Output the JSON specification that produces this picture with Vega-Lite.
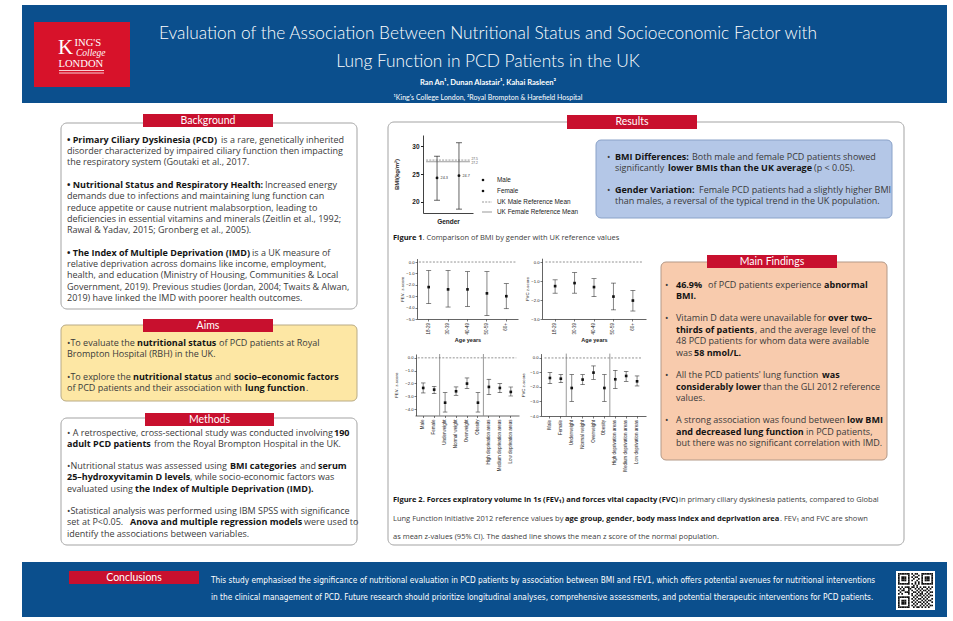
{
  "$schema": "https://vega.github.io/schema/vega-lite/v6.json",
  "width": 953,
  "height": 621,
  "autosize": "none",
  "padding": 0,
  "background": "#ffffff",
  "config": {
    "view": {"stroke": null},
    "axis": {"grid": false, "zindex": 1, "labelFont": "Liberation Sans", "titleFont": "Liberation Sans", "domainColor": "#222222", "tickColor": "#222222", "labelColor": "#222222", "titleColor": "#222222"}
  },
  "datasets": {
    "bands": [{"x": 22, "x2": 947, "y": 5, "y2": 103}, {"x": 22, "x2": 947, "y": 562, "y2": 617}],
    "logo": [{"x": 34, "x2": 130, "y": 22, "y2": 87}],
    "plainBoxes": [{"x": 61, "x2": 357, "y": 123, "y2": 309}, {"x": 61, "x2": 357, "y": 418, "y2": 545}, {"x": 388, "x2": 904, "y": 122, "y2": 545}],
    "aimsBox": [{"x": 61, "x2": 357, "y": 325, "y2": 401}],
    "resultBox": [{"x": 596, "x2": 892, "y": 140, "y2": 218}],
    "findBox": [{"x": 661, "x2": 887, "y": 262, "y2": 460}],
    "tabs": [
      {"x": 143, "x2": 273, "y": 114, "y2": 127}, {"x": 143, "x2": 273, "y": 319, "y2": 332},
      {"x": 145, "x2": 274, "y": 413, "y2": 426}, {"x": 567, "x2": 697, "y": 115, "y2": 129},
      {"x": 707, "x2": 837, "y": 255, "y2": 268}, {"x": 69, "x2": 199, "y": 571, "y2": 584}
    ],
    "tabText": [
      {"x": 208, "y": 120.5, "t": "Background"}, {"x": 208, "y": 325.5, "t": "Aims"},
      {"x": 209.5, "y": 419.5, "t": "Methods"}, {"x": 632, "y": 122, "t": "Results"},
      {"x": 772, "y": 261.5, "t": "Main Findings"}, {"x": 134, "y": 577.5, "t": "Conclusions"}
    ],
    "qrBg": [{"x": 896, "x2": 935, "y": 571, "y2": 610}],
    "titleLines": [
      {"x": 488, "y": 33.5, "t": "Evaluation of the Association Between Nutritional Status and Socioeconomic Factor with"},
      {"x": 488, "y": 61.5, "t": "Lung Function in PCD Patients in the UK"}
    ],
    "authors": [{"x": 488, "y": 82.5, "t": "Ran An¹, Dunan Alastair¹, Kahai Rasleen²"}],
    "affil": [{"x": 488, "y": 97.5, "t": "¹King's College London, ²Royal Brompton & Harefield Hospital"}],
    "logoK": [{"x": 58, "y": 53.5, "t": "K"}],
    "logoCaps": [{"x": 74.5, "y": 45.5, "t": "ING'S"}, {"x": 58.5, "y": 67, "t": "LONDON"}],
    "logoItalic": [{"x": 76, "y": 55.5, "t": "College"}],
    "logoRules": [{"x": 59, "x2": 104, "y": 70.5}, {"x": 59, "x2": 104, "y": 73}],
    "plain": [
      {"x": 221, "y": 139.5, "t": "is a rare, genetically inherited"},
      {"x": 67, "y": 150.9, "t": "disorder characterized by impaired ciliary function then impacting"},
      {"x": 67, "y": 162.3, "t": "the respiratory system (Goutaki et al., 2017."},
      {"x": 265, "y": 184.7, "t": "Increased energy"},
      {"x": 67, "y": 196.1, "t": "demands due to infections and maintaining lung function can"},
      {"x": 67, "y": 207.5, "t": "reduce appetite or cause nutrient malabsorption, leading to"},
      {"x": 67, "y": 218.9, "t": "deficiencies in essential vitamins and minerals (Zeitlin et al., 1992;"},
      {"x": 67, "y": 230.3, "t": "Rawal & Yadav, 2015; Gronberg et al., 2005)."},
      {"x": 252, "y": 252.5, "t": "is a UK measure of"},
      {"x": 67, "y": 263.9, "t": "relative deprivation across domains like income, employment,"},
      {"x": 67, "y": 275.3, "t": "health, and education (Ministry of Housing, Communities & Local"},
      {"x": 67, "y": 286.7, "t": "Government, 2019). Previous studies (Jordan, 2004; Twaits & Alwan,"},
      {"x": 67, "y": 298.1, "t": "2019) have linked the IMD with poorer health outcomes."},
      {"x": 67, "y": 343, "t": "•To evaluate the"},
      {"x": 219, "y": 343, "t": "of PCD patients at Royal"},
      {"x": 67, "y": 354.4, "t": "Brompton Hospital (RBH) in the UK."},
      {"x": 67, "y": 377, "t": "•To explore the"},
      {"x": 215, "y": 377, "t": "and"},
      {"x": 67, "y": 388.4, "t": "of PCD patients and their association with"},
      {"x": 306, "y": 388.4, "t": "."},
      {"x": 67, "y": 432.5, "t": "• A retrospective, cross-sectional study was conducted involving"},
      {"x": 154, "y": 443.9, "t": "from the Royal Brompton Hospital in the UK."},
      {"x": 67, "y": 466, "t": "•Nutritional status was assessed using"},
      {"x": 300, "y": 466, "t": "and"},
      {"x": 190, "y": 477.4, "t": ", while socio-economic factors was"},
      {"x": 67, "y": 488.8, "t": "evaluated using"},
      {"x": 67, "y": 511, "t": "•Statistical analysis was performed using IBM SPSS with significance"},
      {"x": 67, "y": 522.4, "t": "set at P<0.05."},
      {"x": 304, "y": 522.4, "t": "were used to"},
      {"x": 67, "y": 533.8, "t": "identify the associations between variables."},
      {"x": 607, "y": 157, "t": "•"},
      {"x": 692, "y": 157, "t": "Both male and female PCD patients showed"},
      {"x": 615, "y": 168.4, "t": "significantly"},
      {"x": 814, "y": 168.4, "t": "(p < 0.05)."},
      {"x": 607, "y": 190, "t": "•"},
      {"x": 699, "y": 190, "t": "Female PCD patients had a slightly higher BMI"},
      {"x": 615, "y": 201.4, "t": "than males, a reversal of the typical trend in the UK population."},
      {"x": 665, "y": 285, "t": "•"},
      {"x": 708, "y": 285, "t": "of PCD patients experience"},
      {"x": 665, "y": 318, "t": "•"},
      {"x": 676, "y": 318, "t": "Vitamin D data were unavailable for"},
      {"x": 755, "y": 329.6, "t": ", and the average level of the"},
      {"x": 676, "y": 341.2, "t": "48 PCD patients for whom data were available"},
      {"x": 676, "y": 352.8, "t": "was"},
      {"x": 665, "y": 375, "t": "•"},
      {"x": 676, "y": 375, "t": "All the PCD patients' lung function"},
      {"x": 763, "y": 386.6, "t": "than the GLI 2012 reference"},
      {"x": 676, "y": 398.2, "t": "values."},
      {"x": 665, "y": 420, "t": "•"},
      {"x": 676, "y": 420, "t": "A strong association was found between"},
      {"x": 806, "y": 431.6, "t": "in PCD patients,"},
      {"x": 676, "y": 443.2, "t": "but there was no significant correlation with IMD."}
    ],
    "bold": [
      {"x": 67, "y": 139.5, "t": "• Primary Ciliary Dyskinesia (PCD)"},
      {"x": 67, "y": 184.7, "t": "• Nutritional Status and Respiratory Health:"},
      {"x": 67, "y": 252.5, "t": "• The Index of Multiple Deprivation (IMD)"},
      {"x": 137, "y": 343, "t": "nutritional status"},
      {"x": 133, "y": 377, "t": "nutritional status"},
      {"x": 234, "y": 377, "t": "socio–economic factors"},
      {"x": 245, "y": 388.4, "t": "lung function"},
      {"x": 334, "y": 432.5, "t": "190"},
      {"x": 67, "y": 443.9, "t": "adult PCD patients"},
      {"x": 230, "y": 466, "t": "BMI categories"},
      {"x": 318, "y": 466, "t": "serum"},
      {"x": 67, "y": 477.4, "t": "25–hydroxyvitamin D levels"},
      {"x": 135, "y": 488.8, "t": "the Index of Multiple Deprivation (IMD)."},
      {"x": 130, "y": 522.4, "t": "Anova and multiple regression models"},
      {"x": 615, "y": 157, "t": "BMI Differences:"},
      {"x": 668, "y": 168.4, "t": "lower BMIs than the UK average"},
      {"x": 615, "y": 190, "t": "Gender Variation:"},
      {"x": 676, "y": 285, "t": "46.9%"},
      {"x": 824, "y": 285, "t": "abnormal"},
      {"x": 676, "y": 296.4, "t": "BMI."},
      {"x": 828, "y": 318, "t": "over two–"},
      {"x": 676, "y": 329.6, "t": "thirds of patients"},
      {"x": 694, "y": 352.8, "t": "58 nmol/L."},
      {"x": 822, "y": 375, "t": "was"},
      {"x": 676, "y": 386.6, "t": "considerably lower"},
      {"x": 847, "y": 420, "t": "low BMI"},
      {"x": 676, "y": 431.6, "t": "and decreased lung function"}
    ],
    "capBold": [
      {"x": 393, "y": 238, "t": "Figure 1"},
      {"x": 393, "y": 499.5, "t": "Figure 2. Forces expiratory volume in 1s (FEV₁) and forces vital capacity (FVC)"},
      {"x": 565, "y": 518.5, "t": "age group, gender, body mass index and deprivation area"}
    ],
    "capPlain": [
      {"x": 422.5, "y": 238, "t": ". Comparison of BMI by gender with UK reference values"},
      {"x": 679, "y": 499.5, "t": "in primary ciliary dyskinesia patients, compared to Global"},
      {"x": 393, "y": 518.5, "t": "Lung Function Initiative 2012 reference values by"},
      {"x": 780, "y": 518.5, "t": ". FEV₁ and FVC are shown"},
      {"x": 393, "y": 537, "t": "as mean z-values (95% CI). The dashed line shows the mean z score of the normal population."}
    ],
    "legendDots": [{"x": 483, "y": 180}, {"x": 483, "y": 191}],
    "legendDash": [{"x": 482, "x2": 492, "y": 202}],
    "legendSolid": [{"x": 482, "x2": 492, "y": 212}],
    "legendText": [
      {"x": 497, "y": 180, "t": "Male"}, {"x": 497, "y": 191, "t": "Female"},
      {"x": 497, "y": 202, "t": "UK Male Reference Mean"}, {"x": 497, "y": 212, "t": "UK Female Reference Mean"}
    ],
    "conclusion": [
      {"x": 211, "y": 581, "t": "This study emphasised the significance of nutritional evaluation in PCD patients by association between BMI and FEV1, which offers potential avenues for nutritional interventions"},
      {"x": 211, "y": 598, "t": "in the clinical management of PCD. Future research should prioritize longitudinal analyses, comprehensive  assessments, and potential therapeutic interventions for PCD patients."}
    ],
    "bmi": [
      {"gender": "Male", "mean": 24.3, "lo": 20.3, "hi": 28.2},
      {"gender": "Female", "mean": 24.7, "lo": 18.7, "hi": 30.6}
    ],
    "bmiRef": [
      {"ref": "UK Male Reference Mean", "value": 27.5},
      {"ref": "UK Female Reference Mean", "value": 27.2}
    ],
    "fevAge": [
      {"grp": "18-29", "mean": -2.2, "lo": -3.65, "hi": -0.75},
      {"grp": "30-39", "mean": -2.4, "lo": -3.95, "hi": -0.75},
      {"grp": "40-49", "mean": -2.4, "lo": -3.9, "hi": -0.85},
      {"grp": "50-59", "mean": -2.75, "lo": -4.7, "hi": -0.85},
      {"grp": "60+", "mean": -3.0, "lo": -4.1, "hi": -1.9}
    ],
    "fvcAge": [
      {"grp": "18-29", "mean": -1.27, "lo": -1.64, "hi": -0.94},
      {"grp": "30-39", "mean": -1.11, "lo": -1.64, "hi": -0.56},
      {"grp": "40-49", "mean": -1.32, "lo": -1.82, "hi": -0.88},
      {"grp": "50-59", "mean": -1.82, "lo": -2.52, "hi": -1.11},
      {"grp": "60+", "mean": -2.03, "lo": -2.58, "hi": -1.5}
    ],
    "fevGroup": [
      {"grp": "Male", "mean": -2.35, "lo": -2.74, "hi": -1.96},
      {"grp": "Female", "mean": -2.48, "lo": -2.79, "hi": -2.22},
      {"grp": "Underweight", "mean": -3.5, "lo": -4.23, "hi": -2.72},
      {"grp": "Normal weight", "mean": -2.61, "lo": -2.92, "hi": -2.27},
      {"grp": "Overweight", "mean": -2.01, "lo": -2.4, "hi": -1.57},
      {"grp": "Obesity", "mean": -3.5, "lo": -4.23, "hi": -2.72},
      {"grp": "High deprivation areas", "mean": -2.27, "lo": -2.87, "hi": -1.67},
      {"grp": "Medium deprivation areas", "mean": -2.35, "lo": -2.72, "hi": -2.01},
      {"grp": "Low deprivation areas", "mean": -2.66, "lo": -2.98, "hi": -2.27}
    ],
    "fvcGroup": [
      {"grp": "Male", "mean": -1.38, "lo": -1.77, "hi": -1.01},
      {"grp": "Female", "mean": -1.43, "lo": -1.7, "hi": -1.15},
      {"grp": "Underweight", "mean": -2.07, "lo": -2.99, "hi": -1.15},
      {"grp": "Normal weight", "mean": -1.49, "lo": -1.84, "hi": -1.15},
      {"grp": "Overweight", "mean": -1.01, "lo": -1.47, "hi": -0.55},
      {"grp": "Obesity", "mean": -2.07, "lo": -2.99, "hi": -1.15},
      {"grp": "High deprivation areas", "mean": -1.47, "lo": -2.11, "hi": -0.85},
      {"grp": "Medium deprivation areas", "mean": -1.24, "lo": -1.61, "hi": -0.92},
      {"grp": "Low deprivation areas", "mean": -1.61, "lo": -1.93, "hi": -1.24}
    ],
    "groupBreaks": [{"g": "Underweight"}, {"g": "High deprivation areas"}],
    "normalMean": [{"z": 0}],
    "ageSpan": [{"z": 0, "first": "18-29", "last": "60+"}],
    "qr": [
      {"r": 0, "c": [0, 1, 2, 3, 4, 5, 6, 8, 10, 11, 14, 15, 16, 17, 18, 19, 20]},
      {"r": 1, "c": [0, 6, 9, 12, 14, 20]},
      {"r": 2, "c": [0, 2, 3, 4, 6, 8, 10, 11, 14, 16, 17, 18, 20]},
      {"r": 3, "c": [0, 2, 3, 4, 6, 9, 12, 14, 16, 17, 18, 20]},
      {"r": 4, "c": [0, 2, 3, 4, 6, 8, 11, 14, 16, 17, 18, 20]},
      {"r": 5, "c": [0, 6, 10, 12, 14, 20]},
      {"r": 6, "c": [0, 1, 2, 3, 4, 5, 6, 8, 10, 12, 14, 15, 16, 17, 18, 19, 20]},
      {"r": 7, "c": [9, 11]},
      {"r": 8, "c": [0, 2, 4, 5, 6, 8, 9, 11, 13, 15, 16, 18, 20]},
      {"r": 9, "c": [1, 3, 6, 7, 10, 12, 14, 17, 19]},
      {"r": 10, "c": [0, 2, 3, 6, 8, 11, 13, 15, 16, 18]},
      {"r": 11, "c": [1, 4, 5, 6, 9, 10, 12, 14, 17, 19, 20]},
      {"r": 12, "c": [0, 2, 6, 8, 11, 13, 14, 16, 18]},
      {"r": 13, "c": [8, 10, 12, 13, 15, 17, 19, 20]},
      {"r": 14, "c": [0, 1, 2, 3, 4, 5, 6, 9, 11, 14, 16, 18]},
      {"r": 15, "c": [0, 6, 8, 10, 12, 13, 15, 17, 20]},
      {"r": 16, "c": [0, 2, 3, 4, 6, 9, 11, 14, 16, 18, 19]},
      {"r": 17, "c": [0, 2, 3, 4, 6, 8, 10, 12, 13, 15, 17, 20]},
      {"r": 18, "c": [0, 2, 3, 4, 6, 9, 11, 14, 16, 18]},
      {"r": 19, "c": [0, 6, 8, 10, 13, 15, 17, 19, 20]},
      {"r": 20, "c": [0, 1, 2, 3, 4, 5, 6, 9, 11, 12, 14, 16, 18]}
    ]
  },
  "layer": [
    {
      "encoding": {
        "x": {"field": "x", "type": "quantitative", "scale": {"domain": [0, 953], "range": [0, 953], "nice": false, "zero": false}, "axis": null},
        "y": {"field": "y", "type": "quantitative", "scale": {"domain": [0, 621], "range": [0, 621], "nice": false, "zero": false}, "axis": null}
      },
      "layer": [
        {"data": {"name": "bands"}, "mark": {"type": "rect", "fill": "#0b4f8d"}, "encoding": {"x2": {"field": "x2"}, "y2": {"field": "y2"}}},
        {"data": {"name": "logo"}, "mark": {"type": "rect", "fill": "#d7122a"}, "encoding": {"x2": {"field": "x2"}, "y2": {"field": "y2"}}},
        {"data": {"name": "plainBoxes"}, "mark": {"type": "rect", "fill": "#ffffff", "fillOpacity": 0, "stroke": "#a3a3a3", "strokeWidth": 1, "cornerRadius": 6}, "encoding": {"x2": {"field": "x2"}, "y2": {"field": "y2"}}},
        {"data": {"name": "aimsBox"}, "mark": {"type": "rect", "fill": "#fde7a4", "stroke": "#b9ab86", "strokeWidth": 1, "cornerRadius": 5}, "encoding": {"x2": {"field": "x2"}, "y2": {"field": "y2"}}},
        {"data": {"name": "resultBox"}, "mark": {"type": "rect", "fill": "#b4c7e7", "stroke": "#8aa2c8", "strokeWidth": 1, "cornerRadius": 5}, "encoding": {"x2": {"field": "x2"}, "y2": {"field": "y2"}}},
        {"data": {"name": "findBox"}, "mark": {"type": "rect", "fill": "#f8cbad", "stroke": "#b39988", "strokeWidth": 1, "cornerRadius": 5}, "encoding": {"x2": {"field": "x2"}, "y2": {"field": "y2"}}},
        {"data": {"name": "tabs"}, "mark": {"type": "rect", "fill": "#c8102e"}, "encoding": {"x2": {"field": "x2"}, "y2": {"field": "y2"}}},
        {"data": {"name": "qrBg"}, "mark": {"type": "rect", "fill": "#ffffff"}, "encoding": {"x2": {"field": "x2"}, "y2": {"field": "y2"}}},
        {"data": {"name": "tabText"}, "mark": {"type": "text", "font": "Lato", "fontSize": 10.5, "color": "#ffffff", "align": "center", "baseline": "middle"}, "encoding": {"text": {"field": "t"}}},
        {"data": {"name": "titleLines"}, "mark": {"type": "text", "font": "Lato", "fontWeight": 300, "fontSize": 17.3, "color": "#ffffff", "align": "center", "baseline": "middle"}, "encoding": {"text": {"field": "t"}}},
        {"data": {"name": "authors"}, "mark": {"type": "text", "font": "Lato", "fontWeight": "bold", "fontSize": 7.6, "color": "#ffffff", "align": "center", "baseline": "middle"}, "encoding": {"text": {"field": "t"}}},
        {"data": {"name": "affil"}, "mark": {"type": "text", "font": "Lato", "fontSize": 7, "color": "#ffffff", "align": "center", "baseline": "middle"}, "encoding": {"text": {"field": "t"}}},
        {"data": {"name": "logoK"}, "mark": {"type": "text", "font": "Liberation Serif", "fontSize": 21, "color": "#ffffff", "align": "left", "baseline": "alphabetic"}, "encoding": {"text": {"field": "t"}}},
        {"data": {"name": "logoCaps"}, "mark": {"type": "text", "font": "Liberation Serif", "fontSize": 10.6, "color": "#ffffff", "align": "left", "baseline": "alphabetic"}, "encoding": {"text": {"field": "t"}}},
        {"data": {"name": "logoItalic"}, "mark": {"type": "text", "font": "Liberation Serif", "fontStyle": "italic", "fontSize": 9.5, "color": "#ffffff", "align": "left", "baseline": "alphabetic"}, "encoding": {"text": {"field": "t"}}},
        {"data": {"name": "logoRules"}, "mark": {"type": "rule", "color": "#ffffff", "strokeWidth": 0.8}, "encoding": {"x2": {"field": "x2"}}},
        {"data": {"name": "plain"}, "mark": {"type": "text", "font": "Open Sans", "fontSize": 9, "color": "#3a3a3a", "align": "left", "baseline": "middle"}, "encoding": {"text": {"field": "t"}}},
        {"data": {"name": "bold"}, "mark": {"type": "text", "font": "Open Sans", "fontWeight": "bold", "fontSize": 9, "color": "#141414", "align": "left", "baseline": "middle"}, "encoding": {"text": {"field": "t"}}},
        {"data": {"name": "capPlain"}, "mark": {"type": "text", "font": "Open Sans", "fontSize": 7.5, "color": "#404040", "align": "left", "baseline": "middle"}, "encoding": {"text": {"field": "t"}}},
        {"data": {"name": "capBold"}, "mark": {"type": "text", "font": "Open Sans", "fontWeight": "bold", "fontSize": 7.5, "color": "#141414", "align": "left", "baseline": "middle"}, "encoding": {"text": {"field": "t"}}},
        {"data": {"name": "legendDots"}, "mark": {"type": "circle", "size": 7, "color": "#111111", "opacity": 1}},
        {"data": {"name": "legendDash"}, "mark": {"type": "rule", "color": "#555555", "strokeWidth": 0.6, "strokeDash": [2, 1.2]}, "encoding": {"x2": {"field": "x2"}}},
        {"data": {"name": "legendSolid"}, "mark": {"type": "rule", "color": "#555555", "strokeWidth": 0.6}, "encoding": {"x2": {"field": "x2"}}},
        {"data": {"name": "legendText"}, "mark": {"type": "text", "font": "Liberation Sans", "fontSize": 6.4, "color": "#222222", "align": "left", "baseline": "middle"}, "encoding": {"text": {"field": "t"}}},
        {"data": {"name": "conclusion"}, "mark": {"type": "text", "font": "Liberation Sans Narrow, DejaVu Sans Condensed, sans-serif", "fontSize": 8.25, "color": "#ffffff", "align": "left", "baseline": "middle"}, "encoding": {"text": {"field": "t"}}}
      ]
    },
    {
      "data": {"name": "bmi"},
      "mark": {"type": "rule", "color": "#222222", "strokeWidth": 0.7},
      "encoding": {
        "x": {"field": "gender", "type": "nominal", "scale": {"type": "band", "domain": ["Male", "Female"], "range": [423, 473], "paddingInner": 0, "paddingOuter": 0.14},
          "axis": {"orient": "bottom", "offset": -408, "zindex": 1, "labels": false, "ticks": false, "title": "Gender", "titleFontSize": 6.5, "titleFontWeight": "bold", "titlePadding": 5, "domainColor": "#111111", "domainWidth": 0.8}},
        "y": {"field": "lo", "type": "quantitative", "scale": {"domain": [18, 32], "range": [213, 135], "nice": false, "zero": false},
          "axis": {"orient": "left", "offset": -423, "zindex": 1, "values": [20, 25, 30], "labelFontSize": 6.5, "labelFontWeight": "bold", "tickSize": 2.5, "labelPadding": 1.5, "title": "BMI(kg/m²)", "titleFontSize": 6, "titleFontWeight": "bold", "titlePadding": 12, "domainColor": "#111111", "domainWidth": 0.8}},
        "y2": {"field": "hi"}
      }
    },
    {
      "data": {"name": "bmi"},
      "mark": {"type": "tick", "orient": "horizontal", "size": 6, "thickness": 0.7, "color": "#222222", "opacity": 1},
      "encoding": {
        "x": {"field": "gender", "type": "nominal", "scale": {"type": "band", "domain": ["Male", "Female"], "range": [423, 473], "paddingInner": 0, "paddingOuter": 0.14}, "axis": null},
        "y": {"field": "lo", "type": "quantitative", "scale": {"domain": [18, 32], "range": [213, 135], "nice": false, "zero": false}, "axis": null}
      }
    },
    {
      "data": {"name": "bmi"},
      "mark": {"type": "tick", "orient": "horizontal", "size": 6, "thickness": 0.7, "color": "#222222", "opacity": 1},
      "encoding": {
        "x": {"field": "gender", "type": "nominal", "scale": {"type": "band", "domain": ["Male", "Female"], "range": [423, 473], "paddingInner": 0, "paddingOuter": 0.14}, "axis": null},
        "y": {"field": "hi", "type": "quantitative", "scale": {"domain": [18, 32], "range": [213, 135], "nice": false, "zero": false}, "axis": null}
      }
    },
    {
      "data": {"name": "bmi"},
      "mark": {"type": "circle", "size": 8, "color": "#111111", "opacity": 1},
      "encoding": {
        "x": {"field": "gender", "type": "nominal", "scale": {"type": "band", "domain": ["Male", "Female"], "range": [423, 473], "paddingInner": 0, "paddingOuter": 0.14}, "axis": null},
        "y": {"field": "mean", "type": "quantitative", "scale": {"domain": [18, 32], "range": [213, 135], "nice": false, "zero": false}, "axis": null}
      }
    },
    {
      "data": {"name": "bmi"},
      "mark": {"type": "text", "font": "Liberation Sans", "fontSize": 3.8, "color": "#333333", "align": "left", "baseline": "middle", "dx": 3.5},
      "encoding": {
        "x": {"field": "gender", "type": "nominal", "scale": {"type": "band", "domain": ["Male", "Female"], "range": [423, 473], "paddingInner": 0, "paddingOuter": 0.14}, "axis": null},
        "y": {"field": "mean", "type": "quantitative", "scale": {"domain": [18, 32], "range": [213, 135], "nice": false, "zero": false}, "axis": null},
        "text": {"field": "mean", "type": "quantitative", "format": ".1f"}
      }
    },
    {
      "data": {"name": "bmiRef"},
      "mark": {"type": "rule", "color": "#555555", "strokeWidth": 0.6},
      "encoding": {
        "x": {"datum": "Male", "type": "nominal", "bandPosition": 0, "scale": {"type": "band", "domain": ["Male", "Female"], "range": [423, 473], "paddingInner": 0, "paddingOuter": 0.14}, "axis": null},
        "x2": {"datum": "Female", "bandPosition": 1},
        "y": {"field": "value", "type": "quantitative", "scale": {"domain": [18, 32], "range": [213, 135], "nice": false, "zero": false}, "axis": null},
        "strokeDash": {"field": "ref", "type": "nominal", "scale": {"domain": ["UK Male Reference Mean", "UK Female Reference Mean"], "range": [[2, 1.2], [1, 0]]}, "legend": null}
      }
    },
    {
      "data": {"name": "bmiRef"},
      "transform": [{"filter": "datum.ref === 'UK Male Reference Mean'"}],
      "mark": {"type": "text", "font": "Liberation Sans", "fontSize": 3.3, "color": "#555555", "align": "left", "baseline": "bottom", "dx": 1.5, "dy": 0.6},
      "encoding": {
        "x": {"datum": "Female", "type": "nominal", "bandPosition": 1, "scale": {"type": "band", "domain": ["Male", "Female"], "range": [423, 473], "paddingInner": 0, "paddingOuter": 0.14}, "axis": null},
        "y": {"field": "value", "type": "quantitative", "scale": {"domain": [18, 32], "range": [213, 135], "nice": false, "zero": false}, "axis": null},
        "text": {"field": "value", "type": "quantitative", "format": ".1f"}
      }
    },
    {
      "data": {"name": "bmiRef"},
      "transform": [{"filter": "datum.ref === 'UK Female Reference Mean'"}],
      "mark": {"type": "text", "font": "Liberation Sans", "fontSize": 3.3, "color": "#555555", "align": "left", "baseline": "top", "dx": 1.5, "dy": -0.6},
      "encoding": {
        "x": {"datum": "Female", "type": "nominal", "bandPosition": 1, "scale": {"type": "band", "domain": ["Male", "Female"], "range": [423, 473], "paddingInner": 0, "paddingOuter": 0.14}, "axis": null},
        "y": {"field": "value", "type": "quantitative", "scale": {"domain": [18, 32], "range": [213, 135], "nice": false, "zero": false}, "axis": null},
        "text": {"field": "value", "type": "quantitative", "format": ".1f"}
      }
    },
    {
      "data": {"name": "ageSpan"},
      "mark": {"type": "rule", "color": "#777777", "strokeWidth": 0.8, "strokeDash": [2, 1.5]},
      "encoding": {
        "x": {"field": "first", "type": "nominal", "bandPosition": 0, "scale": {"type": "band", "domain": ["18-29", "30-39", "40-49", "50-59", "60+"], "range": [417, 518], "paddingInner": 0, "paddingOuter": 0.1}, "axis": null},
        "x2": {"field": "last", "bandPosition": 1},
        "y": {"field": "z", "type": "quantitative", "scale": {"domain": [-5, 0.3], "range": [319, 258.6], "nice": false, "zero": false}, "axis": null}
      }
    },
    {
      "data": {"name": "fevAge"},
      "mark": {"type": "rule", "color": "#333333", "strokeWidth": 0.6},
      "encoding": {
        "x": {"field": "grp", "type": "nominal", "scale": {"type": "band", "domain": ["18-29", "30-39", "40-49", "50-59", "60+"], "range": [417, 518], "paddingInner": 0, "paddingOuter": 0.1},
          "axis": {"orient": "bottom", "offset": -302, "zindex": 1, "labelAngle": -90, "labelFontSize": 4.5, "tickSize": 2, "tickWidth": 0.6, "domainWidth": 0.7, "labelPadding": 1.5, "title": "Age years", "titleFontSize": 5.5, "titleFontWeight": "bold", "titlePadding": 3}},
        "y": {"field": "lo", "type": "quantitative", "scale": {"domain": [-5, 0.3], "range": [319, 258.6], "nice": false, "zero": false},
          "axis": {"orient": "left", "offset": -417, "zindex": 1, "values": [-5, -4, -3, -2, -1, 0], "format": ".1f", "labelFontSize": 4.2, "tickSize": 2, "tickWidth": 0.6, "domainWidth": 0.7, "labelPadding": 1, "title": "FEV₁ z-score", "titleFontSize": 4.3, "titleFontWeight": "normal", "titlePadding": 1.5}},
        "y2": {"field": "hi"}
      }
    },
    {
      "data": {"name": "fevAge"},
      "mark": {"type": "tick", "orient": "horizontal", "size": 5, "thickness": 0.6, "color": "#333333", "opacity": 1},
      "encoding": {
        "x": {"field": "grp", "type": "nominal", "scale": {"type": "band", "domain": ["18-29", "30-39", "40-49", "50-59", "60+"], "range": [417, 518], "paddingInner": 0, "paddingOuter": 0.1}, "axis": null},
        "y": {"field": "lo", "type": "quantitative", "scale": {"domain": [-5, 0.3], "range": [319, 258.6], "nice": false, "zero": false}, "axis": null}
      }
    },
    {
      "data": {"name": "fevAge"},
      "mark": {"type": "tick", "orient": "horizontal", "size": 5, "thickness": 0.6, "color": "#333333", "opacity": 1},
      "encoding": {
        "x": {"field": "grp", "type": "nominal", "scale": {"type": "band", "domain": ["18-29", "30-39", "40-49", "50-59", "60+"], "range": [417, 518], "paddingInner": 0, "paddingOuter": 0.1}, "axis": null},
        "y": {"field": "hi", "type": "quantitative", "scale": {"domain": [-5, 0.3], "range": [319, 258.6], "nice": false, "zero": false}, "axis": null}
      }
    },
    {
      "data": {"name": "fevAge"},
      "mark": {"type": "square", "size": 7, "color": "#111111", "opacity": 1},
      "encoding": {
        "x": {"field": "grp", "type": "nominal", "scale": {"type": "band", "domain": ["18-29", "30-39", "40-49", "50-59", "60+"], "range": [417, 518], "paddingInner": 0, "paddingOuter": 0.1}, "axis": null},
        "y": {"field": "mean", "type": "quantitative", "scale": {"domain": [-5, 0.3], "range": [319, 258.6], "nice": false, "zero": false}, "axis": null}
      }
    },
    {
      "data": {"name": "ageSpan"},
      "mark": {"type": "rule", "color": "#777777", "strokeWidth": 0.8, "strokeDash": [2, 1.5]},
      "encoding": {
        "x": {"field": "first", "type": "nominal", "bandPosition": 0, "scale": {"type": "band", "domain": ["18-29", "30-39", "40-49", "50-59", "60+"], "range": [542, 646], "paddingInner": 0, "paddingOuter": 0.175}, "axis": null},
        "x2": {"field": "last", "bandPosition": 1},
        "y": {"field": "z", "type": "quantitative", "scale": {"domain": [-3, 0.2], "range": [319, 258.2], "nice": false, "zero": false}, "axis": null}
      }
    },
    {
      "data": {"name": "fvcAge"},
      "mark": {"type": "rule", "color": "#333333", "strokeWidth": 0.6},
      "encoding": {
        "x": {"field": "grp", "type": "nominal", "scale": {"type": "band", "domain": ["18-29", "30-39", "40-49", "50-59", "60+"], "range": [542, 646], "paddingInner": 0, "paddingOuter": 0.175},
          "axis": {"orient": "bottom", "offset": -302, "zindex": 1, "labelAngle": -90, "labelFontSize": 4.5, "tickSize": 2, "tickWidth": 0.6, "domainWidth": 0.7, "labelPadding": 1.5, "title": "Age years", "titleFontSize": 5.5, "titleFontWeight": "bold", "titlePadding": 3}},
        "y": {"field": "lo", "type": "quantitative", "scale": {"domain": [-3, 0.2], "range": [319, 258.2], "nice": false, "zero": false},
          "axis": {"orient": "left", "offset": -542, "zindex": 1, "values": [-3, -2, -1, 0], "format": ".1f", "labelFontSize": 4.2, "tickSize": 2, "tickWidth": 0.6, "domainWidth": 0.7, "labelPadding": 1, "title": "FVC z-score", "titleFontSize": 4.3, "titleFontWeight": "normal", "titlePadding": 1.5}},
        "y2": {"field": "hi"}
      }
    },
    {
      "data": {"name": "fvcAge"},
      "mark": {"type": "tick", "orient": "horizontal", "size": 5, "thickness": 0.6, "color": "#333333", "opacity": 1},
      "encoding": {
        "x": {"field": "grp", "type": "nominal", "scale": {"type": "band", "domain": ["18-29", "30-39", "40-49", "50-59", "60+"], "range": [542, 646], "paddingInner": 0, "paddingOuter": 0.175}, "axis": null},
        "y": {"field": "lo", "type": "quantitative", "scale": {"domain": [-3, 0.2], "range": [319, 258.2], "nice": false, "zero": false}, "axis": null}
      }
    },
    {
      "data": {"name": "fvcAge"},
      "mark": {"type": "tick", "orient": "horizontal", "size": 5, "thickness": 0.6, "color": "#333333", "opacity": 1},
      "encoding": {
        "x": {"field": "grp", "type": "nominal", "scale": {"type": "band", "domain": ["18-29", "30-39", "40-49", "50-59", "60+"], "range": [542, 646], "paddingInner": 0, "paddingOuter": 0.175}, "axis": null},
        "y": {"field": "hi", "type": "quantitative", "scale": {"domain": [-3, 0.2], "range": [319, 258.2], "nice": false, "zero": false}, "axis": null}
      }
    },
    {
      "data": {"name": "fvcAge"},
      "mark": {"type": "square", "size": 7, "color": "#111111", "opacity": 1},
      "encoding": {
        "x": {"field": "grp", "type": "nominal", "scale": {"type": "band", "domain": ["18-29", "30-39", "40-49", "50-59", "60+"], "range": [542, 646], "paddingInner": 0, "paddingOuter": 0.175}, "axis": null},
        "y": {"field": "mean", "type": "quantitative", "scale": {"domain": [-3, 0.2], "range": [319, 258.2], "nice": false, "zero": false}, "axis": null}
      }
    },
    {
      "data": {"name": "normalMean"},
      "mark": {"type": "rule", "color": "#777777", "strokeWidth": 0.8, "strokeDash": [2, 1.5]},
      "encoding": {
        "x": {"datum": "Male", "type": "nominal", "bandPosition": 0, "scale": {"type": "band", "domain": ["Male", "Female", "Underweight", "Normal weight", "Overweight", "Obesity", "High deprivation areas", "Medium deprivation areas", "Low deprivation areas"], "range": [415, 519], "paddingInner": 0, "paddingOuter": 0.25}, "axis": null},
        "x2": {"datum": "Low deprivation areas", "bandPosition": 1},
        "y": {"field": "z", "type": "quantitative", "scale": {"domain": [-4.5, 0.3], "range": [415.5, 354], "nice": false, "zero": false}, "axis": null}
      }
    },
    {
      "data": {"name": "groupBreaks"},
      "mark": {"type": "rule", "color": "#555555", "strokeWidth": 0.6},
      "encoding": {
        "x": {"field": "g", "type": "nominal", "bandPosition": 0, "scale": {"type": "band", "domain": ["Male", "Female", "Underweight", "Normal weight", "Overweight", "Obesity", "High deprivation areas", "Medium deprivation areas", "Low deprivation areas"], "range": [415, 519], "paddingInner": 0, "paddingOuter": 0.25}, "axis": null},
        "y": {"datum": -4.5, "type": "quantitative", "scale": {"domain": [-4.5, 0.3], "range": [415.5, 354], "nice": false, "zero": false}, "axis": null},
        "y2": {"datum": 0.3}
      }
    },
    {
      "data": {"name": "fevGroup"},
      "mark": {"type": "rule", "color": "#333333", "strokeWidth": 0.6},
      "encoding": {
        "x": {"field": "grp", "type": "nominal", "scale": {"type": "band", "domain": ["Male", "Female", "Underweight", "Normal weight", "Overweight", "Obesity", "High deprivation areas", "Medium deprivation areas", "Low deprivation areas"], "range": [415, 519], "paddingInner": 0, "paddingOuter": 0.25},
          "axis": {"orient": "bottom", "offset": -205.5, "zindex": 1, "labelAngle": -90, "labelFontSize": 4.5, "tickSize": 2, "tickWidth": 0.6, "domainWidth": 0.7, "labelPadding": 1.5, "title": null}},
        "y": {"field": "lo", "type": "quantitative", "scale": {"domain": [-4.5, 0.3], "range": [415.5, 354], "nice": false, "zero": false},
          "axis": {"orient": "left", "offset": -416, "zindex": 1, "values": [-4, -3, -2, -1, 0], "format": ".1f", "labelFontSize": 4.2, "tickSize": 2, "tickWidth": 0.6, "domainWidth": 0.7, "labelPadding": 1, "title": "FEV₁ z-score", "titleFontSize": 4.3, "titleFontWeight": "normal", "titlePadding": 6}},
        "y2": {"field": "hi"}
      }
    },
    {
      "data": {"name": "fevGroup"},
      "mark": {"type": "tick", "orient": "horizontal", "size": 4.5, "thickness": 0.6, "color": "#333333", "opacity": 1},
      "encoding": {
        "x": {"field": "grp", "type": "nominal", "scale": {"type": "band", "domain": ["Male", "Female", "Underweight", "Normal weight", "Overweight", "Obesity", "High deprivation areas", "Medium deprivation areas", "Low deprivation areas"], "range": [415, 519], "paddingInner": 0, "paddingOuter": 0.25}, "axis": null},
        "y": {"field": "lo", "type": "quantitative", "scale": {"domain": [-4.5, 0.3], "range": [415.5, 354], "nice": false, "zero": false}, "axis": null}
      }
    },
    {
      "data": {"name": "fevGroup"},
      "mark": {"type": "tick", "orient": "horizontal", "size": 4.5, "thickness": 0.6, "color": "#333333", "opacity": 1},
      "encoding": {
        "x": {"field": "grp", "type": "nominal", "scale": {"type": "band", "domain": ["Male", "Female", "Underweight", "Normal weight", "Overweight", "Obesity", "High deprivation areas", "Medium deprivation areas", "Low deprivation areas"], "range": [415, 519], "paddingInner": 0, "paddingOuter": 0.25}, "axis": null},
        "y": {"field": "hi", "type": "quantitative", "scale": {"domain": [-4.5, 0.3], "range": [415.5, 354], "nice": false, "zero": false}, "axis": null}
      }
    },
    {
      "data": {"name": "fevGroup"},
      "mark": {"type": "square", "size": 7, "color": "#111111", "opacity": 1},
      "encoding": {
        "x": {"field": "grp", "type": "nominal", "scale": {"type": "band", "domain": ["Male", "Female", "Underweight", "Normal weight", "Overweight", "Obesity", "High deprivation areas", "Medium deprivation areas", "Low deprivation areas"], "range": [415, 519], "paddingInner": 0, "paddingOuter": 0.25}, "axis": null},
        "y": {"field": "mean", "type": "quantitative", "scale": {"domain": [-4.5, 0.3], "range": [415.5, 354], "nice": false, "zero": false}, "axis": null}
      }
    },
    {
      "data": {"name": "normalMean"},
      "mark": {"type": "rule", "color": "#777777", "strokeWidth": 0.8, "strokeDash": [2, 1.5]},
      "encoding": {
        "x": {"datum": "Male", "type": "nominal", "bandPosition": 0, "scale": {"type": "band", "domain": ["Male", "Female", "Underweight", "Normal weight", "Overweight", "Obesity", "High deprivation areas", "Medium deprivation areas", "Low deprivation areas"], "range": [541, 646], "paddingInner": 0, "paddingOuter": 0.32}, "axis": null},
        "x2": {"datum": "Low deprivation areas", "bandPosition": 1},
        "y": {"field": "z", "type": "quantitative", "scale": {"domain": [-4, 0.3], "range": [416, 353.6], "nice": false, "zero": false}, "axis": null}
      }
    },
    {
      "data": {"name": "groupBreaks"},
      "mark": {"type": "rule", "color": "#555555", "strokeWidth": 0.6},
      "encoding": {
        "x": {"field": "g", "type": "nominal", "bandPosition": 0, "scale": {"type": "band", "domain": ["Male", "Female", "Underweight", "Normal weight", "Overweight", "Obesity", "High deprivation areas", "Medium deprivation areas", "Low deprivation areas"], "range": [541, 646], "paddingInner": 0, "paddingOuter": 0.32}, "axis": null},
        "y": {"datum": -4, "type": "quantitative", "scale": {"domain": [-4, 0.3], "range": [416, 353.6], "nice": false, "zero": false}, "axis": null},
        "y2": {"datum": 0.3}
      }
    },
    {
      "data": {"name": "fvcGroup"},
      "mark": {"type": "rule", "color": "#333333", "strokeWidth": 0.6},
      "encoding": {
        "x": {"field": "grp", "type": "nominal", "scale": {"type": "band", "domain": ["Male", "Female", "Underweight", "Normal weight", "Overweight", "Obesity", "High deprivation areas", "Medium deprivation areas", "Low deprivation areas"], "range": [541, 646], "paddingInner": 0, "paddingOuter": 0.32},
          "axis": {"orient": "bottom", "offset": -205, "zindex": 1, "labelAngle": -90, "labelFontSize": 4.5, "tickSize": 2, "tickWidth": 0.6, "domainWidth": 0.7, "labelPadding": 1.5, "title": null}},
        "y": {"field": "lo", "type": "quantitative", "scale": {"domain": [-4, 0.3], "range": [416, 353.6], "nice": false, "zero": false},
          "axis": {"orient": "left", "offset": -541, "zindex": 1, "values": [-4, -3, -2, -1, 0], "format": ".1f", "labelFontSize": 4.2, "tickSize": 2, "tickWidth": 0.6, "domainWidth": 0.7, "labelPadding": 1, "title": "FVC z-score", "titleFontSize": 4.3, "titleFontWeight": "normal", "titlePadding": 4}},
        "y2": {"field": "hi"}
      }
    },
    {
      "data": {"name": "fvcGroup"},
      "mark": {"type": "tick", "orient": "horizontal", "size": 4.5, "thickness": 0.6, "color": "#333333", "opacity": 1},
      "encoding": {
        "x": {"field": "grp", "type": "nominal", "scale": {"type": "band", "domain": ["Male", "Female", "Underweight", "Normal weight", "Overweight", "Obesity", "High deprivation areas", "Medium deprivation areas", "Low deprivation areas"], "range": [541, 646], "paddingInner": 0, "paddingOuter": 0.32}, "axis": null},
        "y": {"field": "lo", "type": "quantitative", "scale": {"domain": [-4, 0.3], "range": [416, 353.6], "nice": false, "zero": false}, "axis": null}
      }
    },
    {
      "data": {"name": "fvcGroup"},
      "mark": {"type": "tick", "orient": "horizontal", "size": 4.5, "thickness": 0.6, "color": "#333333", "opacity": 1},
      "encoding": {
        "x": {"field": "grp", "type": "nominal", "scale": {"type": "band", "domain": ["Male", "Female", "Underweight", "Normal weight", "Overweight", "Obesity", "High deprivation areas", "Medium deprivation areas", "Low deprivation areas"], "range": [541, 646], "paddingInner": 0, "paddingOuter": 0.32}, "axis": null},
        "y": {"field": "hi", "type": "quantitative", "scale": {"domain": [-4, 0.3], "range": [416, 353.6], "nice": false, "zero": false}, "axis": null}
      }
    },
    {
      "data": {"name": "fvcGroup"},
      "mark": {"type": "square", "size": 7, "color": "#111111", "opacity": 1},
      "encoding": {
        "x": {"field": "grp", "type": "nominal", "scale": {"type": "band", "domain": ["Male", "Female", "Underweight", "Normal weight", "Overweight", "Obesity", "High deprivation areas", "Medium deprivation areas", "Low deprivation areas"], "range": [541, 646], "paddingInner": 0, "paddingOuter": 0.32}, "axis": null},
        "y": {"field": "mean", "type": "quantitative", "scale": {"domain": [-4, 0.3], "range": [416, 353.6], "nice": false, "zero": false}, "axis": null}
      }
    },
    {
      "data": {"name": "qr"},
      "transform": [{"flatten": ["c"]}],
      "mark": {"type": "rect", "fill": "#111111"},
      "encoding": {
        "x": {"field": "c", "type": "ordinal", "scale": {"type": "band", "domain": [0, 1, 2, 3, 4, 5, 6, 7, 8, 9, 10, 11, 12, 13, 14, 15, 16, 17, 18, 19, 20], "range": [898, 933], "paddingInner": 0, "paddingOuter": 0}, "axis": null},
        "y": {"field": "r", "type": "ordinal", "scale": {"type": "band", "domain": [0, 1, 2, 3, 4, 5, 6, 7, 8, 9, 10, 11, 12, 13, 14, 15, 16, 17, 18, 19, 20], "range": [573, 608], "paddingInner": 0, "paddingOuter": 0}, "axis": null}
      }
    }
  ],
  "resolve": {"scale": {"x": "independent", "y": "independent"}}
}
